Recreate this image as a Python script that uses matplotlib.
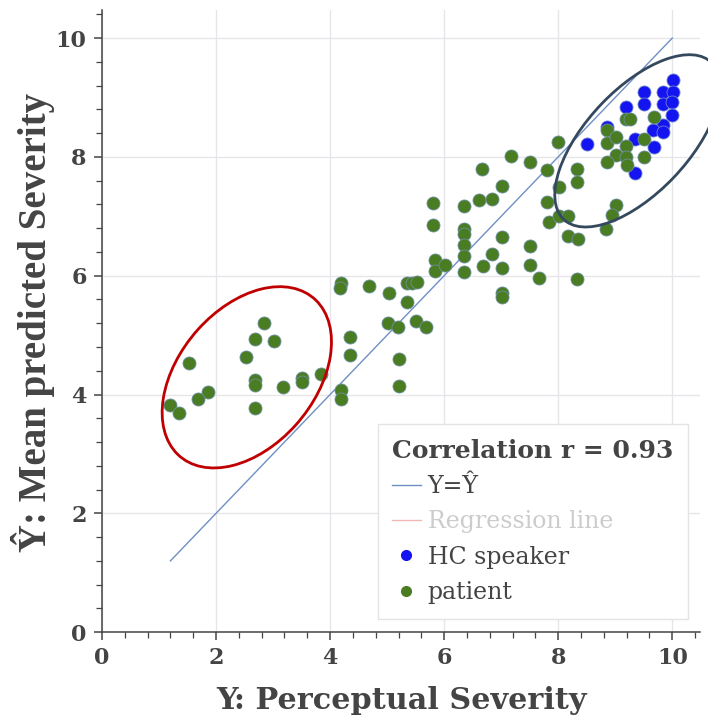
"""
Perceptual vs. mean predicted severity scatter, HC speakers and patients.
Writes out.png (708x725).
"""
import matplotlib
matplotlib.use("Agg")
import matplotlib.pyplot as plt
import matplotlib.ticker as mtick
from matplotlib.lines import Line2D
from matplotlib.patches import Ellipse

# Perceptual severity (Y) and mean predicted severity (Y-hat)
hc_x = [10.02, 9.51, 9.51, 9.84, 10.02, 9.84, 10.0, 10.0, 9.18, 8.86,
        8.51, 9.84, 9.67, 9.84, 9.35, 9.68, 9.35]
hc_y = [9.29, 9.09, 8.89, 9.09, 9.09, 8.89, 8.92, 8.70, 8.84, 8.50,
        8.22, 8.54, 8.45, 8.42, 8.30, 8.17, 7.73]

patient_x = [
    # low-severity group (red ellipse)
    4.20, 4.18, 2.84, 2.68, 3.02, 2.53, 1.53, 4.35, 4.35, 2.68,
    2.68, 1.86, 1.69, 1.19, 1.35, 3.18, 3.51, 3.51, 3.84, 2.68,
    4.19, 4.19,
    # middle
    8.00, 7.18, 7.51, 6.67, 7.81, 8.33, 8.33, 7.02, 8.02, 5.81,
    6.35, 6.61, 6.84, 7.81, 7.84, 8.02, 8.18, 8.18, 8.35, 5.81,
    6.35, 6.35, 6.35, 6.35, 7.02, 7.51, 6.84, 5.84, 5.84, 6.02,
    6.35, 6.68, 7.02, 7.51, 7.67, 8.33, 7.02, 7.02, 4.68, 5.04,
    5.35, 5.44, 5.53, 5.35, 5.02, 5.19, 5.51, 5.68, 5.20, 5.20,
    # high-severity group (dark ellipse)
    9.19, 9.26, 9.68, 8.86, 8.86, 9.02, 9.19, 9.51, 9.02, 9.19,
    8.86, 9.21, 9.51, 9.02, 8.95, 8.84,
]
patient_y = [
    5.88, 5.79, 5.20, 4.93, 4.90, 4.63, 4.53, 4.97, 4.66, 4.24,
    4.16, 4.04, 3.92, 3.82, 3.69, 4.13, 4.28, 4.21, 4.34, 3.77,
    4.07, 3.92,
    8.25, 8.01, 7.91, 7.79, 7.78, 7.79, 7.58, 7.51, 7.49, 7.22,
    7.17, 7.27, 7.29, 7.24, 6.90, 7.00, 7.00, 6.67, 6.62, 6.85,
    6.78, 6.70, 6.52, 6.33, 6.65, 6.50, 6.36, 6.26, 6.08, 6.18,
    6.06, 6.16, 6.13, 6.18, 5.96, 5.94, 5.71, 5.64, 5.82, 5.71,
    5.88, 5.88, 5.89, 5.56, 5.20, 5.13, 5.24, 5.13, 4.60, 4.15,
    8.64, 8.64, 8.67, 8.45, 8.23, 8.33, 8.18, 8.30, 8.03, 8.00,
    7.91, 7.86, 8.00, 7.19, 7.02, 6.78,
]

identity = [1.2, 10.0]
r_value = 0.93

TEXT = "#444444"
SERIF = ["DejaVu Serif"]

fig = plt.figure(figsize=(7.08, 7.25), dpi=100)
ax = fig.add_axes([0.144, 0.128, 0.845, 0.858])

ax.plot(identity, identity, color="#6f8fc4", lw=1.0, zorder=2)
ax.scatter(hc_x, hc_y, s=88, color="#1414f0", edgecolors="#6a7fd0",
           linewidths=0.6, zorder=3)
ax.scatter(patient_x, patient_y, s=88, color="#4a7c22", edgecolors="#6d8fa0",
           linewidths=0.6, zorder=4)

# highlight ellipses
ax.add_patch(Ellipse((2.54, 4.29), 3.55, 2.35, angle=47, fill=False,
                     edgecolor="#c00000", lw=2.0, zorder=5, clip_on=False))
ax.add_patch(Ellipse((9.39, 8.27), 3.7, 1.77, angle=45, fill=False,
                     edgecolor="#34495e", lw=2.0, zorder=5, clip_on=False))

ax.set_xlim(0, 10.49)
ax.set_ylim(0, 10.47)
ax.xaxis.set_major_locator(mtick.MultipleLocator(2))
ax.yaxis.set_major_locator(mtick.MultipleLocator(2))
ax.xaxis.set_minor_locator(mtick.MultipleLocator(0.4))
ax.yaxis.set_minor_locator(mtick.MultipleLocator(0.4))
ax.tick_params(which="major", direction="out", length=6, width=1.1,
               colors=TEXT, labelsize=16, pad=5)
ax.tick_params(which="minor", direction="out", length=4, width=0.9,
               colors=TEXT)
for lab in ax.get_xticklabels() + ax.get_yticklabels():
    lab.set_family(SERIF)
    lab.set_fontweight("bold")

for side in ("top", "right"):
    ax.spines[side].set_visible(False)
for side in ("left", "bottom"):
    ax.spines[side].set_color(TEXT)
    ax.spines[side].set_linewidth(1.1)
ax.grid(True, which="major", color="#e6e6ea", lw=1.0, zorder=0)
ax.set_axisbelow(True)

ax.set_xlabel("Y: Perceptual Severity", family=SERIF, fontweight="bold",
              fontsize=21.8, color=TEXT, labelpad=12)
ax.set_ylabel("Ŷ: Mean predicted Severity",
              family=["Liberation Serif", "DejaVu Serif"], fontweight="bold",
              fontsize=28, color=TEXT)
ax.yaxis.set_label_coords(-0.078, 0.498)

handles = [
    Line2D([], [], color="#6f8fc4", lw=1.0),
    Line2D([], [], color="#f0b8b8", lw=1.0),
    Line2D([], [], ls="", marker="o", ms=7, color="#1414f0"),
    Line2D([], [], ls="", marker="o", ms=7, color="#4a7c22"),
]
labels = ["Y=Ŷ", "Regression line", "HC speaker", "patient"]
leg = ax.legend(handles, labels, title=f"Correlation r = {r_value:.2f}",
                loc="lower right", bbox_to_anchor=(0.98, 0.022),
                prop={"family": "DejaVu Serif", "size": 17},
                title_fontproperties={"family": "DejaVu Serif", "size": 18,
                                      "weight": "bold"},
                frameon=True, fancybox=False, edgecolor="#e4e4e4",
                framealpha=1.0, handlelength=1.2, handletextpad=0.3,
                labelspacing=0.52, borderpad=0.62, borderaxespad=0,
                alignment="left")
leg.get_title().set_color(TEXT)
for txt, col in zip(leg.get_texts(), [TEXT, "#cccccc", TEXT, TEXT]):
    txt.set_color(col)

fig.savefig("out.png", dpi=100)
